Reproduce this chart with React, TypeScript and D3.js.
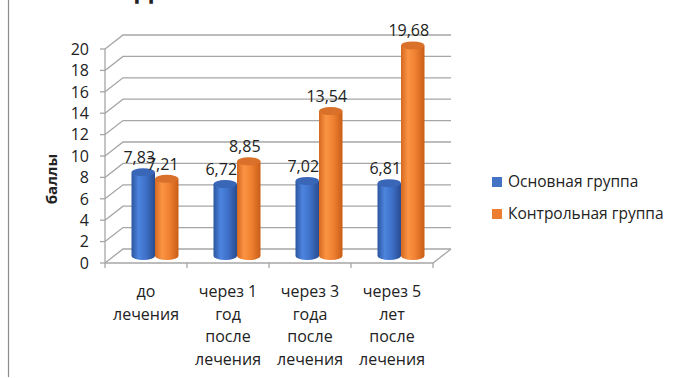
import React from "react";
import * as d3 from "d3";

// Scores by follow-up stage
const categories: string[][] = [
  ["до", "лечения"],
  ["через 1", "год", "после", "лечения"],
  ["через 3", "года", "после", "лечения"],
  ["через 5", "лет", "после", "лечения"],
];
const mainGroup = [7.83, 6.72, 7.02, 6.81];
const controlGroup = [7.21, 8.85, 13.54, 19.68];
const seriesNames = ["Основная группа", "Контрольная группа"];
const yTicks = [0, 2, 4, 6, 8, 10, 12, 14, 16, 18, 20];

const W = 685;
const H = 378;
const FONT = "'Open Sans', 'Noto Sans', sans-serif";

// 3D frame geometry: front plane and the depth shift of the back wall
const DX = 18;
const DY = -14;
const GRID = "#a6a6a6";

const fmt = (v: number) => v.toFixed(2).replace(".", ",");

export default function App() {
  const x = d3
    .scaleBand<number>()
    .domain(d3.range(categories.length))
    .range([105, 433])
    .paddingInner(0);
  const y = d3.scaleLinear().domain([0, 20]).range([263, 49]);

  const barW = 23.5;
  const rx = barW / 2;
  const ry = 4;
  const midDx = DX / 2;
  const midDy = DY / 2;

  const series = [
    { name: seriesNames[0], values: mainGroup, grad: "gBlue", top: "#3a66b8", solid: "#4472C4", side: -1 },
    { name: seriesNames[1], values: controlGroup, grad: "gOrange", top: "#d9712a", solid: "#ED7D31", side: 1 },
  ];

  const x0 = x.range()[0];
  const x1 = x.range()[1];
  const base = y(0);

  const cylinder = (cx: number, v: number) => {
    const bottom = y(0) + midDy;
    const top = y(v) + midDy;
    const l = cx - rx;
    const r = cx + rx;
    return {
      body: `M${l},${top} L${l},${bottom} A${rx},${ry} 0 0 0 ${r},${bottom} L${r},${top} Z`,
      top,
    };
  };

  return (
    <svg
      width={W}
      height={H}
      style={{ position: "absolute", left: 0, top: 0, background: "#fff" }}
      fontFamily={FONT}
    >
      <defs>
        <linearGradient id="gBlue" x1="0" x2="1" y1="0" y2="0">
          <stop offset="0%" stopColor="#2b559f" />
          <stop offset="30%" stopColor="#4d84de" />
          <stop offset="60%" stopColor="#3f72ca" />
          <stop offset="100%" stopColor="#294c91" />
        </linearGradient>
        <linearGradient id="gOrange" x1="0" x2="1" y1="0" y2="0">
          <stop offset="0%" stopColor="#d5681f" />
          <stop offset="30%" stopColor="#fb9444" />
          <stop offset="60%" stopColor="#f08232" />
          <stop offset="100%" stopColor="#c85d17" />
        </linearGradient>
      </defs>

      {/* frame border */}
      <line x1={8.5} x2={8.5} y1={0} y2={377} stroke="#8c8c8c" strokeWidth={1.2} />

      {/* title, running off the top edge */}
      <text x={135} y={-1} fontSize={24} fontWeight="bold" fill="#222">
        Динамика показателей
      </text>

      {/* back wall gridlines with side-wall diagonals */}
      {yTicks.map((t) => (
        <g key={t} stroke={GRID} strokeWidth={1.3} fill="none">
          <path d={`M${x0},${y(t)} L${x0 + DX},${y(t) + DY} L${x1 + DX},${y(t) + DY}`} />
        </g>
      ))}

      {/* floor */}
      <path
        d={`M${x0},${base} L${x1},${base} L${x1 + DX},${base + DY}`}
        stroke={GRID}
        strokeWidth={1.3}
        fill="none"
      />

      {/* value axis */}
      <line x1={x0} x2={x0} y1={y(20)} y2={base} stroke={GRID} strokeWidth={1.3} />
      {yTicks.map((t) => (
        <g key={"t" + t}>
          <line x1={x0 - 5} x2={x0} y1={y(t)} y2={y(t)} stroke={GRID} strokeWidth={1.3} />
          <text x={89} y={y(t)} dy="0.36em" textAnchor="end" fontSize={16} fill="#222">
            {t}
          </text>
        </g>
      ))}

      {/* category ticks */}
      {d3.range(categories.length + 1).map((i) => {
        const px = i < categories.length ? x(i)! : x1;
        return <line key={"c" + i} x1={px} x2={px} y1={base} y2={base + 5} stroke={GRID} strokeWidth={1.3} />;
      })}

      {/* cylinders */}
      {categories.map((_, i) => {
        const center = x(i)! + x.bandwidth() / 2 + midDx;
        return (
          <g key={"b" + i}>
            {series.map((s) => {
              const cx = center + (s.side * barW) / 2;
              const c = cylinder(cx, s.values[i]);
              return (
                <g key={s.name}>
                  <path d={c.body} fill={`url(#${s.grad})`} />
                  <ellipse cx={cx} cy={c.top} rx={rx} ry={ry} fill={s.top} />
                </g>
              );
            })}
          </g>
        );
      })}

      {/* data labels */}
      {categories.map((_, i) => {
        const center = x(i)! + x.bandwidth() / 2 + midDx;
        return series.map((s) => {
          const cx = center + (s.side * barW) / 2;
          const top = y(s.values[i]) + midDy;
          return (
            <text key={"l" + i + s.name} x={cx - 4} y={top - 9} textAnchor="middle" fontSize={16} fill="#222">
              {fmt(s.values[i])}
            </text>
          );
        });
      })}

      {/* category labels */}
      {categories.map((lines, i) => (
        <text key={"cl" + i} textAnchor="middle" fontSize={16} fill="#222">
          {lines.map((ln, j) => (
            <tspan key={j} x={x(i)! + x.bandwidth() / 2} y={297 + j * 22.7}>
              {ln}
            </tspan>
          ))}
        </text>
      ))}

      {/* axis title */}
      <text
        transform="translate(57,179) rotate(-90)"
        textAnchor="middle"
        fontSize={15}
        fontWeight="bold"
        fill="#222"
      >
        баллы
      </text>

      {/* legend */}
      {series.map((s, k) => (
        <g key={"lg" + k} transform={`translate(492,${177 + k * 32})`}>
          <rect width={10} height={10} fill={s.solid} />
          <text x={16} y={10} fontSize={15.5} fill="#222">
            {s.name}
          </text>
        </g>
      ))}
    </svg>
  );
}
